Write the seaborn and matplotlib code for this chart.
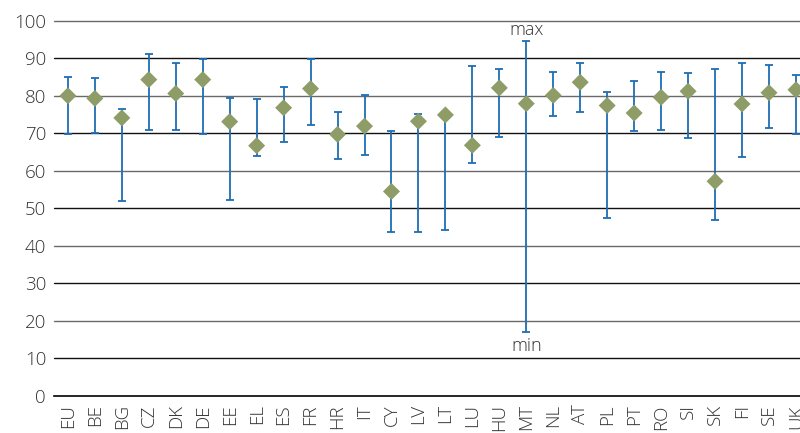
import numpy as np
import pandas as pd
import matplotlib
matplotlib.use('Agg')
import matplotlib.pyplot as plt
import seaborn as sns

countries = ['EU', 'BE', 'BG', 'CZ', 'DK', 'DE', 'EE', 'EL', 'ES', 'FR', 'HR', 'IT', 'CY', 'LV',
             'LT', 'LU', 'HU', 'MT', 'NL', 'AT', 'PL', 'PT', 'RO', 'SI', 'SK', 'FI', 'SE', 'UK']
avg = [80.0, 79.3, 74.1, 84.3, 80.6, 84.3, 73.1, 66.7, 76.8, 81.9, 69.7, 71.9, 54.5, 73.2,
       74.9, 66.8, 82.1, 77.9, 80.1, 83.6, 77.4, 75.4, 79.6, 81.2, 57.2, 77.8, 80.8, 81.6]
max_v = [84.9, 84.7, 76.4, 91.0, 88.7, 89.9, 79.3, 79.1, 82.2, 89.9, 75.6, 80.2, 70.7, 75.1,
         75.0, 88.0, 87.0, 94.7, 86.4, 88.7, 80.9, 84.0, 86.3, 86.0, 87.0, 88.7, 88.3, 85.6]
min_v = [69.8, 70.1, 51.9, 70.8, 70.8, 69.9, 52.1, 63.9, 67.8, 72.2, 63.2, 64.1, 43.7, 43.7,
         44.1, 62.1, 69.1, 17.0, 74.6, 75.8, 47.3, 70.5, 70.9, 68.8, 46.8, 63.8, 71.4, 69.9]

df = pd.DataFrame({'country': countries, 'avg': avg, 'max': max_v, 'min': min_v})
df['x'] = np.arange(len(df))

sns.set_style('white')
plt.rcParams['font.family'] = ['Open Sans', 'DejaVu Sans']
plt.rcParams['font.weight'] = 'light'

fig = plt.figure(figsize=(8, 4.33), dpi=100)
ax = fig.add_axes([0.068, 0.0855, 0.932, 0.8667])

# gridlines: odd tens darker
for v in range(10, 101, 10):
    ax.axhline(v, color='#111111' if v % 20 else '#6a6a6a', lw=1.0, zorder=0, clip_on=False)

ax.errorbar(df['x'], df['avg'],
            yerr=[df['avg'] - df['min'], df['max'] - df['avg']],
            fmt='none', ecolor='#1F6DB5', elinewidth=1.3, capsize=3, capthick=1.3, zorder=2)
sns.scatterplot(data=df, x='x', y='avg', marker='D', s=75, color='#8E9C68',
                edgecolor='none', zorder=3, ax=ax)

ax.text(17, 95.2, 'max', ha='center', va='bottom', fontsize=13, color='#333333')
ax.text(17, 15.8, 'min', ha='center', va='top', fontsize=13, color='#333333')

ax.set_xlim(-0.5, 27.15)
ax.set_ylim(0, 100)
ax.set_yticks(range(0, 101, 10))
ax.set_xticks(df['x'])
ax.set_xticklabels(df['country'], rotation=90)
ax.tick_params(axis='both', labelsize=13.5, labelcolor='#333333', length=0, pad=6)
ax.set_xlabel('')
ax.set_ylabel('')
for s in ['top', 'left', 'right']:
    ax.spines[s].set_visible(False)
# baseline at 0
ax.spines['bottom'].set_visible(True)
ax.spines['bottom'].set_color('#000000')
ax.spines['bottom'].set_linewidth(1.2)

fig.savefig('out.png', dpi=100)
